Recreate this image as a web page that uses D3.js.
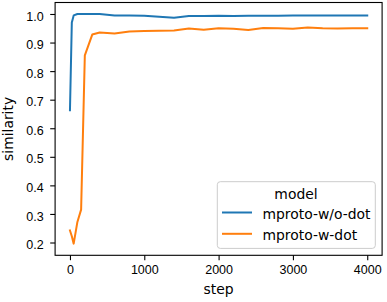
<!DOCTYPE html>
<html lang="en">
<head>
<meta charset="UTF-8">
<script src="https://d3js.org/d3.v7.min.js"></script>
<title>similarity by step</title>
<style>
    body { margin: 0; background: #fff; }
    svg { display: block; font-family: "DejaVu Sans", sans-serif; }
    .tick text { font-size: 12.5px; fill: #000; }
    .tick line { stroke: #000; stroke-width: 1.1px; }
    .domain { display: none; }
</style>
</head>
<body>
<svg id="chart" width="387" height="302"></svg>
<script>
    // data
    const steps = [0, 25, 50, 100, 150, 200, 300, 400, 600, 800, 1000, 1200, 1400, 1600, 1800,
        2000, 2200, 2400, 2600, 2800, 3000, 3200, 3400, 3600, 3800, 4000];
    const woDot = [0.663, 0.97, 0.995, 1.0, 1.0, 1.0, 1.0, 1.0, 0.995, 0.995, 0.994, 0.99, 0.987, 0.993, 0.993,
        0.994, 0.993, 0.994, 0.994, 0.994, 0.995, 0.995, 0.995, 0.995, 0.995, 0.995];
    const wDot = [0.242, 0.222, 0.196, 0.272, 0.315, 0.855, 0.928, 0.935, 0.932, 0.939, 0.94, 0.941, 0.942, 0.949, 0.945,
        0.95, 0.948, 0.944, 0.951, 0.95, 0.948, 0.953, 0.95, 0.949, 0.95, 0.95];
    const seriesNames = ["mproto-w/o-dot", "mproto-w-dot"];
    const seriesColors = ["#1f77b4", "#ff7f0e"];
    const xTicks = [0, 1000, 2000, 3000, 4000];
    const yTicks = [0.2, 0.3, 0.4, 0.5, 0.6, 0.7, 0.8, 0.9, 1.0];

    const svg = d3.select("#chart");
    const plotLeft = 55.1, plotRight = 382.1, plotTop = 2.5, plotBottom = 255.3;

    const x = d3.scaleLinear().domain([-200, 4200]).range([plotLeft, plotRight]);
    const y = d3.scaleLinear().domain([0.1552, 1.0402]).range([plotBottom, plotTop]);

    // axes
    svg.append("g")
        .attr("transform", "translate(0," + plotBottom + ")")
        .call(d3.axisBottom(x).tickValues(xTicks).tickSize(4.9).tickPadding(5).tickFormat(d3.format("d")))
        .selectAll("text").attr("dy", "0.71em");

    svg.append("g")
        .attr("transform", "translate(" + plotLeft + ",0)")
        .call(d3.axisLeft(y).tickValues(yTicks).tickSize(4.9).tickPadding(6.5).tickFormat(d3.format(".1f")))
        .selectAll("text").attr("dy", "0.49em");

    // lines
    const series = [woDot, wDot];
    const line = d3.line()
        .x((d, i) => x(steps[i]))
        .y(d => y(d));

    svg.append("g")
        .selectAll("path")
        .data(series)
        .join("path")
        .attr("d", line)
        .attr("fill", "none")
        .attr("stroke", (d, i) => seriesColors[i])
        .attr("stroke-width", 2)
        .attr("stroke-linejoin", "round")
        .attr("stroke-linecap", "square");

    // frame
    svg.append("rect")
        .attr("x", plotLeft).attr("y", plotTop)
        .attr("width", plotRight - plotLeft).attr("height", plotBottom - plotTop)
        .attr("fill", "none").attr("stroke", "#000").attr("stroke-width", 1.1);

    // axis labels
    svg.append("text")
        .attr("x", (plotLeft + plotRight) / 2).attr("y", 294)
        .attr("text-anchor", "middle")
        .attr("font-size", "13.9px")
        .text("step");

    svg.append("text")
        .attr("transform", "translate(13.3," + ((plotTop + plotBottom) / 2) + ") rotate(-90)")
        .attr("text-anchor", "middle")
        .attr("font-size", "13.9px")
        .text("similarity");

    // legend
    const legend = svg.append("g");
    legend.append("rect")
        .attr("x", 217.3).attr("y", 181.7)
        .attr("width", 158).attr("height", 66.7)
        .attr("rx", 3)
        .attr("fill", "#fff").attr("fill-opacity", 0.8)
        .attr("stroke", "#ccc").attr("stroke-width", 1);
    legend.append("text")
        .attr("x", 296).attr("y", 198.7)
        .attr("text-anchor", "middle")
        .attr("font-size", "13.9px")
        .text("model");

    const entries = legend.selectAll("g.entry")
        .data(seriesNames)
        .join("g")
        .attr("class", "entry")
        .attr("transform", (d, i) => "translate(0," + (i * 21.3) + ")");
    entries.append("line")
        .attr("x1", 223).attr("x2", 251)
        .attr("y1", 212.5).attr("y2", 212.5)
        .attr("stroke", (d, i) => seriesColors[i])
        .attr("stroke-width", 2)
        .attr("stroke-linecap", "square");
    entries.append("text")
        .attr("x", 262.5).attr("y", 218.5)
        .attr("font-size", "13.9px")
        .text(d => d);
</script>
</body>
</html>
